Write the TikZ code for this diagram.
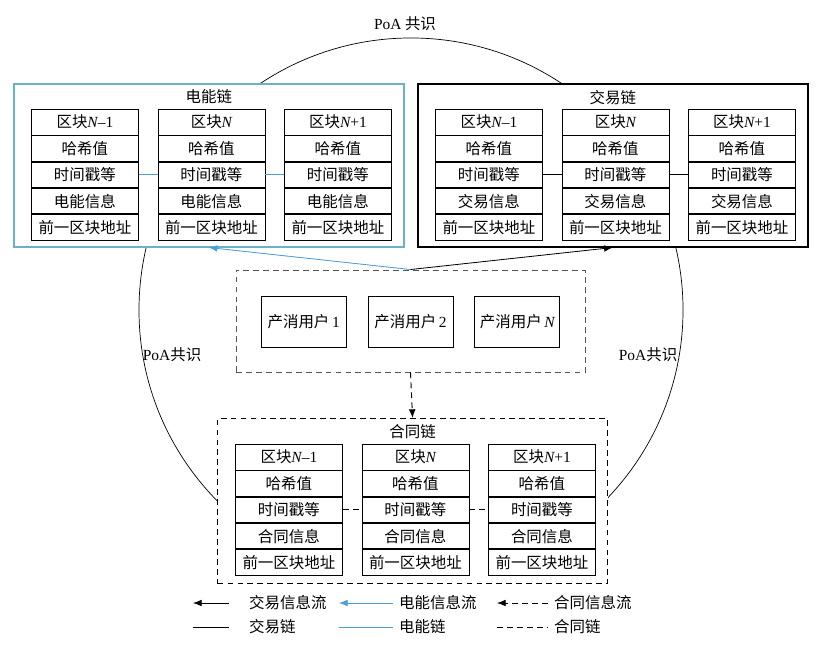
\documentclass[tikz,border=0pt]{standalone}
\usepackage{fontspec}
\setmainfont{Liberation Serif}
\newfontfamily\zh{Noto Sans CJK SC}
\usetikzlibrary{positioning,arrows.meta}
\definecolor{powerTeal}{HTML}{6BB2C4}
\definecolor{powerBlue}{HTML}{4A9FD8}
\definecolor{frameGray}{HTML}{555555}
\newcommand{\cellfont}{\fontsize{13.2}{15}\selectfont\zh}
\newcommand{\lat}[1]{{\rmfamily #1}}
\newcommand{\lN}{{\rmfamily\itshape N}}
\tikzset{
  cell/.style={draw, fill=white, line width=0.7pt, minimum width=3.21cm, minimum height=0.765cm, inner sep=0pt, font=\cellfont},
  chainBox/.style={draw, fill=white, minimum width=11.7cm, minimum height=4.89cm, anchor=north west},
  chainPower/.style={chainBox, draw=powerTeal, line width=1.3pt},
  chainTrade/.style={chainBox, draw=black, line width=1.3pt},
  chainContract/.style={chainBox, dashLine, line width=1pt, minimum height=4.95cm},
  dashLine/.style={dash pattern=on 5pt off 3.5pt},
  userBox/.style={draw, line width=0.7pt, minimum width=2.55cm, minimum height=1.53cm, font=\cellfont},
  title/.style={font=\cellfont, inner sep=0pt},
  arrow/.style={-{Latex[length=2.6mm,width=2mm]}, line width=0.7pt},
  linkPower/.style={draw=powerBlue, line width=0.7pt},
  linkTrade/.style={line width=0.7pt},
  linkContract/.style={dashLine, line width=0.8pt}
}
% one chain: three blocks of five cells
\newcommand{\chainblocks}[3]{%
  \foreach \head [count=\i] in {区块\lN{\lat{–1}}, 区块\lN, 区块\lN{\lat{+1}}} {
    \node[cell, anchor=north west, xshift=0.54cm+3.795cm*(\i-1), yshift=-0.78cm] (#1-\i-0) at (#1.north west) {\head};
    \foreach \txt [count=\r, remember=\r as \lastr (initially 0)] in {哈希值, 时间戳等, #2, 前一区块地址}
      \node[cell, below=0pt of #1-\i-\lastr] (#1-\i-\r) {\txt};
  }
  \draw[#3] (#1-1-2.east) -- (#1-2-2.west);
  \draw[#3] (#1-2-2.east) -- (#1-3-2.west);
}

\begin{document}
\begin{tikzpicture}[x=0.03cm, y=-0.03cm, node distance=0.63cm, font=\cellfont]
  \useasboundingbox (0,0) rectangle (818,651);

  % PoA consensus ring
  \node[circle, draw, line width=0.6pt, minimum size=16.32cm, inner sep=0pt] (poa) at (411,310) {};
  \node[title] (poaTop) at (405,24) {\lat{PoA} 共识};
  \node[title] (poaLeft) at (172,355) {\lat{PoA}共识};
  \node[title] (poaRight) at (648,355) {\lat{PoA}共识};

  % chains
  \node[chainPower] (power) at (13,83) {};
  \node[title, below=0.2cm of power.north] (powerTitle) {电能链};
  \chainblocks{power}{电能信息}{linkPower}

  \node[chainTrade] (trade) at (417,83) {};
  \node[title, below=0.2cm of trade.north] (tradeTitle) {交易链};
  \chainblocks{trade}{交易信息}{linkTrade}

  \node[chainContract] (contract) at (217,418) {};
  \node[title, below=0.2cm of contract.north] (contractTitle) {合同链};
  \chainblocks{contract}{合同信息}{linkContract}

  % prosumers
  \node[draw=frameGray, dashLine, line width=0.8pt, minimum width=10.47cm, minimum height=3.06cm] (users) at (410.5,321) {};
  \node[userBox] (user2) at (410.5,321.5) {产消用户\,\lat{2}};
  \node[userBox, left=of user2] (user1) {产消用户\,\lat{1}};
  \node[userBox, right=of user2] (userN) {产消用户\,\lN};

  \draw[arrow, draw=powerBlue, fill=powerBlue] (users.north) -- (power.south);
  \draw[arrow] (users.north) -- (trade.south);
  \draw[arrow, dashLine, line width=0.8pt] (users.south) -- (contract.north);

  % legend
  \coordinate (lgA1) at (193,603); \coordinate (lgA2) at (229,603);
  \coordinate (lgB1) at (339,603); \coordinate (lgB2) at (393,603);
  \coordinate (lgC1) at (497,603); \coordinate (lgC2) at (548,603);
  \coordinate (lgD1) at (193,627); \coordinate (lgD2) at (229,627);
  \coordinate (lgE1) at (339,627); \coordinate (lgE2) at (393,627);
  \coordinate (lgF1) at (497,627); \coordinate (lgF2) at (548,627);
  \draw[arrow] (lgA2) -- (lgA1);
  \draw[arrow, draw=powerBlue, fill=powerBlue] (lgB2) -- (lgB1);
  \draw[arrow, dashLine] (lgC2) -- (lgC1);
  \draw[linkTrade] (lgD1) -- (lgD2);
  \draw[linkPower] (lgE1) -- (lgE2);
  \draw[linkContract] (lgF1) -- (lgF2);
  \node[title, anchor=west] (lgA) at (249,603) {交易信息流};
  \node[title, anchor=west] (lgB) at (399,603) {电能信息流};
  \node[title, anchor=west] (lgC) at (554,603) {合同信息流};
  \node[title, anchor=west] (lgD) at (249,627) {交易链};
  \node[title, anchor=west] (lgE) at (399,627) {电能链};
  \node[title, anchor=west] (lgF) at (554,627) {合同链};
\end{tikzpicture}
\end{document}
